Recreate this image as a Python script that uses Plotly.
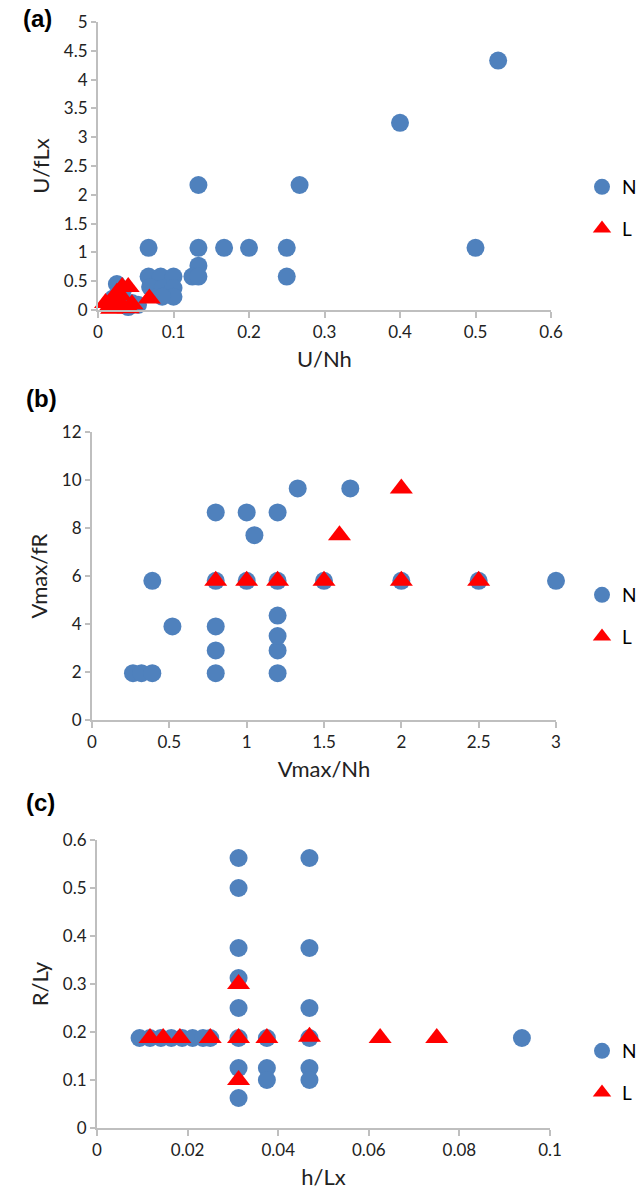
import plotly.graph_objects as go

W, H = 636, 1204

# ---------------- data ----------------
# Panel (a): U/Nh vs U/fLx
a_N_x = [0.53, 0.40, 0.50, 0.133, 0.267, 0.067, 0.133, 0.167, 0.20, 0.25, 0.25, 0.133,
         0.125, 0.133, 0.067, 0.083, 0.10, 0.069, 0.086, 0.10, 0.10, 0.085, 0.025, 0.033,
         0.045, 0.053, 0.02, 0.04]
a_N_y = [4.33, 3.25, 1.08, 2.17, 2.17, 1.08, 1.08, 1.08, 1.08, 1.08, 0.58, 0.77,
         0.58, 0.58, 0.58, 0.58, 0.58, 0.40, 0.38, 0.38, 0.23, 0.23, 0.45, 0.35,
         0.12, 0.09, 0.20, 0.05]
a_L_x = [0.010, 0.018, 0.022, 0.030, 0.032, 0.032, 0.040, 0.040, 0.045, 0.068, 0.015, 0.025]
a_L_y = [0.12, 0.02, 0.17, 0.25, 0.40, 0.08, 0.40, 0.03, 0.10, 0.20, 0.05, 0.30]

# Panel (b): Vmax/Nh vs Vmax/fR
b_N_x = [0.265, 0.32, 0.39, 0.39, 0.52, 0.8, 0.8, 0.8, 0.8, 0.8, 1.0, 1.0, 1.05,
         1.2, 1.2, 1.2, 1.2, 1.2, 1.2, 1.33, 1.5, 1.67, 2.0, 2.5, 3.0]
b_N_y = [1.95, 1.95, 1.95, 5.8, 3.9, 1.95, 2.9, 3.9, 5.8, 8.65, 5.8, 8.65, 7.7,
         1.95, 2.9, 3.5, 4.35, 5.8, 8.65, 9.65, 5.8, 9.65, 5.8, 5.8, 5.8]
b_L_x = [0.8, 1.0, 1.2, 1.5, 2.0, 2.5, 1.6, 2.0]
b_L_y = [5.8, 5.8, 5.8, 5.8, 5.8, 5.8, 7.7, 9.65]

# Panel (c): h/Lx vs R/Ly
c_N_x = [0.03125] * 8 + [0.0469] * 6 + [0.0375] * 3 + [0.0938] + \
        [0.0094, 0.0117, 0.0141, 0.0164, 0.0188, 0.0211, 0.0234, 0.025]
c_N_y = [0.5625, 0.5, 0.375, 0.3125, 0.25, 0.1875, 0.125, 0.0625] + \
        [0.5625, 0.375, 0.25, 0.1875, 0.125, 0.1] + [0.1875, 0.125, 0.1] + [0.1875] + \
        [0.1875] * 8
c_L_x = [0.0117, 0.0146, 0.0183, 0.025, 0.03125, 0.03125, 0.03125, 0.0375, 0.0469, 0.0625, 0.075]
c_L_y = [0.1875, 0.1875, 0.1875, 0.1875, 0.1875, 0.30, 0.10, 0.1875, 0.19, 0.1875, 0.1875]

x_titles = ["U/Nh", "Vmax/Nh", "h/Lx"]
y_titles = ["U/fLx", "Vmax/fR", "R/Ly"]
panel_labels = ["(a)", "(b)", "(c)"]
x_ranges = [[0, 0.6], [0, 3], [0, 0.1]]
y_ranges = [[0, 5], [0, 12], [0, 0.6]]
x_dticks = [0.1, 0.5, 0.02]
y_dticks = [0.5, 2, 0.1]

BLUE = "#4F81BD"
RED = "#FF0000"
FONT = "Lato"

# ---------------- layout geometry (pixels) ----------------
px_x = [(98, 551), (92, 556), (97, 550)]
px_y = [(22, 310), (432, 720), (840, 1128)]
legend_top = [168, 576, 1032]
label_pos = [(21, 19), (24, 399), (24, 802)]

fig = go.Figure()
data = [(a_N_x, a_N_y, a_L_x, a_L_y), (b_N_x, b_N_y, b_L_x, b_L_y), (c_N_x, c_N_y, c_L_x, c_L_y)]

for i, (nx, ny, lx, ly) in enumerate(data):
    sfx = "" if i == 0 else str(i + 1)
    leg = "legend" if i == 0 else f"legend{i + 1}"
    fig.add_trace(go.Scatter(x=nx, y=ny, mode="markers", name="N",
                             xaxis="x" + sfx, yaxis="y" + sfx, legend=leg,
                             legendgroup=f"N{i}", cliponaxis=False,
                             marker=dict(symbol="circle", size=18, color=BLUE)))
    fig.add_trace(go.Scatter(x=lx, y=ly, mode="markers", name="L",
                             xaxis="x" + sfx, yaxis="y" + sfx, legend=leg,
                             legendgroup=f"L{i}", cliponaxis=False,
                             marker=dict(symbol="triangle-up", size=20, color=RED)))

layout = dict(width=W, height=H, margin=dict(l=0, r=0, t=0, b=0, autoexpand=False),
              plot_bgcolor="white", paper_bgcolor="white", showlegend=True,
              font=dict(family=FONT, size=17, color="#000000"))
annotations = []
for i in range(3):
    sfx = "" if i == 0 else str(i + 1)
    x0, x1 = px_x[i]
    y0, y1 = px_y[i]
    layout["xaxis" + sfx] = dict(
        domain=[x0 / W, x1 / W], anchor="y" + sfx, range=x_ranges[i], dtick=x_dticks[i], tick0=0,
        showgrid=False, zeroline=False, showline=True, linecolor="#BFBFBF", linewidth=2,
        ticks="outside", ticklen=6, tickwidth=2, tickcolor="#BFBFBF",
        tickfont=dict(family=FONT, size=17, color="#222"),
        title=dict(text=x_titles[i], font=dict(family=FONT, size=22, color="#222"), standoff=10),
        automargin=False, fixedrange=True)
    layout["yaxis" + sfx] = dict(
        domain=[1 - y1 / H, 1 - y0 / H], anchor="x" + sfx, range=y_ranges[i], dtick=y_dticks[i], tick0=0,
        showgrid=False, zeroline=False, showline=True, linecolor="#BFBFBF", linewidth=2,
        ticks="outside", ticklen=5, tickwidth=2, tickcolor="#BFBFBF",
        tickfont=dict(family=FONT, size=17, color="#222"),
        title=dict(text=y_titles[i], font=dict(family=FONT, size=22, color="#222"), standoff=8),
        automargin=False, fixedrange=True)
    leg = "legend" if i == 0 else f"legend{i + 1}"
    layout[leg] = dict(x=582 / W, y=1 - legend_top[i] / H, xanchor="left", yanchor="top",
                       bgcolor="rgba(0,0,0,0)", tracegroupgap=14,
                       font=dict(family=FONT, size=19, color="#000"))
    lx, ly = label_pos[i]
    annotations.append(dict(text="<b>" + panel_labels[i] + "</b>", xref="paper", yref="paper",
                            x=lx / W, y=1 - ly / H, xanchor="left", yanchor="middle",
                            showarrow=False, font=dict(family="Liberation Sans", size=24, color="#000")))
layout["annotations"] = annotations
fig.update_layout(**layout)
fig.write_html("out.html")
